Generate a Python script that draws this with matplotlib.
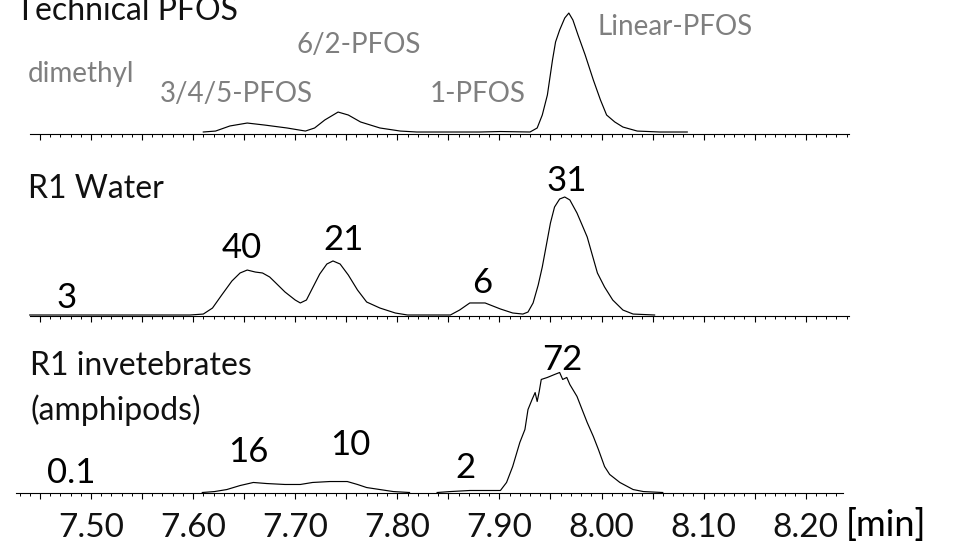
import numpy as np
import matplotlib.pyplot as plt
from matplotlib.ticker import FixedLocator

plt.rcParams['font.family'] = ['Lato', 'DejaVu Sans']

# -----------------------------
# traces (retention time [min], relative intensity)
# -----------------------------
tech_t = [7.610, 7.622, 7.636, 7.653, 7.670, 7.692, 7.710, 7.719, 7.729, 7.742,
          7.752, 7.764, 7.783, 7.803, 7.819, 7.852, 7.881, 7.901, 7.930, 7.937,
          7.942, 7.947, 7.952, 7.955, 7.959, 7.964, 7.968, 7.972, 7.977, 7.984,
          7.992, 7.999, 8.005, 8.013, 8.021, 8.035, 8.057, 8.084]
tech_i = [0, 0.8, 5.1, 7.6, 5.9, 3.4, 0.8, 3.4, 10.2, 16.9,
          14.4, 8.5, 3.4, 0.8, 0, 0, 0, 0.4, 0, 3.4,
          14.4, 31.4, 61.0, 76.3, 86.4, 96.6, 100.8, 94.9, 82.2, 65.3,
          44.1, 27.1, 14.4, 8.5, 4.2, 0.8, 0, 0]

water_t = [7.440, 7.470, 7.509, 7.558, 7.597, 7.610, 7.619, 7.628, 7.638, 7.646,
           7.653, 7.661, 7.668, 7.675, 7.680, 7.690, 7.700, 7.705, 7.711, 7.716,
           7.724, 7.731, 7.737, 7.744, 7.752, 7.761, 7.770, 7.783, 7.798, 7.810,
           7.832, 7.852, 7.861, 7.871, 7.886, 7.901, 7.913, 7.923, 7.928, 7.933,
           7.938, 7.942, 7.946, 7.950, 7.954, 7.959, 7.964, 7.969, 7.976, 7.981,
           7.986, 7.991, 7.996, 8.003, 8.011, 8.021, 8.031, 8.052]
water_i = [0, 0, 0, 0, 0, 0.8, 5.9, 16.9, 28.8, 35.6,
           38.1, 36.4, 35.6, 32.2, 28.0, 19.5, 12.7, 10.2, 12.7, 21.2,
           34.7, 43.2, 45.8, 43.2, 33.9, 21.2, 11.0, 5.9, 1.7, 0,
           0, 0, 4.2, 10.2, 10.2, 5.1, 1.7, 0.8, 2.5, 10.2,
           25.4, 40.7, 59.3, 78.0, 91.5, 98.3, 100, 97.5, 86.4, 76.3,
           66.1, 50.8, 35.6, 23.7, 12.7, 4.2, 0.8, 0]

amph_t = [7.609, 7.621, 7.633, 7.646, 7.659, 7.672, 7.690, 7.705, 7.717, 7.734,
          7.751, 7.761, 7.770, 7.783, 7.796, 7.812, 7.825, 7.839, 7.852, 7.871,
          7.901, 7.907, 7.913, 7.920, 7.925, 7.928, 7.932, 7.935, 7.937, 7.939,
          7.941, 7.947, 7.954, 7.959, 7.962, 7.966, 7.969, 7.976, 7.981, 7.986,
          7.992, 7.997, 8.003, 8.008, 8.018, 8.031, 8.041, 8.060]
amph_i = [0, 0.8, 2.5, 5.9, 8.5, 7.6, 6.8, 6.8, 8.5, 9.3,
          9.3, 6.8, 4.2, 2.5, 0.8, 0, np.nan, 0, 0.8, 1.7,
          1.7, 8.5, 22.0, 42.4, 53.4, 70.3, 78.8, 84.7, 77.1, 85.6,
          95.8, 97.5, 100, 101.7, 95.8, 97.5, 91.5, 81.4, 70.3, 59.3,
          47.5, 36.4, 22.0, 15.3, 8.5, 2.5, 0.8, 0]

isomer_labels = ['dimethyl', '3/4/5-PFOS', '6/2-PFOS', '1-PFOS', 'Linear-PFOS']
isomer_pos = [(28, 82), (160, 102), (297, 53), (430, 102), (597, 35)]

water_pct = ['3', '40', '21', '6', '31']
water_pos = [(57, 308), (222, 258), (323, 250), (472, 293), (547, 191)]

amph_pct = ['0.1', '16', '10', '2', '72']
amph_pos = [(47, 483), (228, 462), (330, 455), (455, 478), (542, 370)]

# -----------------------------
# layout (pixels of the 964x549 picture)
# -----------------------------
W, H = 964, 549
PX_PER_MIN = 1021.0
PX_PER_UNIT = 1.18
X0 = 7.50 - 91 / PX_PER_MIN
X1 = 7.50 + (W - 91) / PX_PER_MIN

fig = plt.figure(figsize=(W / 100, H / 100), dpi=100)
fig.patch.set_facecolor('white')


def fpos(x, y):
    return x / W, 1 - y / H


def panel(axis_y, lift, left_px, right_px, t, i, labels=False):
    ax = fig.add_axes([0, 1 - axis_y / H, 1, 125 / H])
    ax.set_facecolor('none')
    ax.plot(t, i, color='black', linewidth=0.85, clip_on=False)
    ax.set_xlim(X0, X1)
    ax.set_ylim(-lift / PX_PER_UNIT, (125 - lift) / PX_PER_UNIT)
    for s in ['left', 'right', 'top']:
        ax.spines[s].set_visible(False)
    lo = X0 + left_px / PX_PER_MIN
    hi = X0 + right_px / PX_PER_MIN
    ax.spines['bottom'].set_bounds(lo, hi)
    ax.spines['bottom'].set_linewidth(0.8)
    ax.set_yticks([])
    # tick marks every 0.01 min, longer every 0.05 min
    minor = np.round(np.arange(np.ceil(lo * 100), np.floor(hi * 100) + 1) / 100, 2)
    major = [m for m in minor if round(m * 100) % 5 == 0]
    ax.xaxis.set_major_locator(FixedLocator(major))
    ax.xaxis.set_minor_locator(FixedLocator(minor))
    ax.tick_params(axis='x', which='major', length=4.5, width=0.8, direction='out')
    ax.tick_params(axis='x', which='minor', length=2.2, width=0.7, direction='out')
    if labels:
        ax.set_xticklabels(['%.2f' % m if round(m * 100) % 10 == 0 else '' for m in major],
                           fontsize=24, color='#111111')
        ax.tick_params(axis='x', which='major', pad=10)
    else:
        ax.set_xticklabels([])
    return ax


panel(134, 2, 30, 849, tech_t, tech_i)
panel(316, 1, 30, 849, water_t, water_i)
panel(493, 0.5, 16, 843, amph_t, amph_i, labels=True)

# -----------------------------
# texts
# -----------------------------
fig.text(*fpos(16, 20), 'Technical PFOS', fontsize=23, color='#111111', va='baseline')
fig.text(*fpos(28, 198), 'R1 Water', fontsize=23, color='#111111', va='baseline')
fig.text(*fpos(30, 375), 'R1 invetebrates', fontsize=23, color='#111111', va='baseline')
fig.text(*fpos(30, 420), '(amphipods)', fontsize=23, color='#111111', va='baseline')

for lab, (x, y) in zip(isomer_labels, isomer_pos):
    fig.text(*fpos(x, y), lab, fontsize=20, color='#7f7f7f', va='baseline')
for lab, (x, y) in zip(water_pct, water_pos):
    fig.text(*fpos(x, y), lab, fontsize=25, color='black', va='baseline')
for lab, (x, y) in zip(amph_pct, amph_pos):
    fig.text(*fpos(x, y), lab, fontsize=25, color='black', va='baseline')

fig.text(*fpos(846, 536), '[min]', fontsize=26, color='black', va='baseline')

fig.savefig('out.png', dpi=100, facecolor='white')
